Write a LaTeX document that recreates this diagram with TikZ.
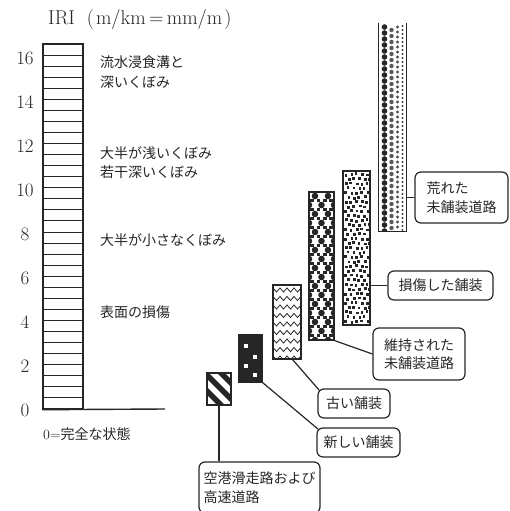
\documentclass[tikz,border=0pt]{standalone}
\usepackage{fontspec}
\newfontfamily\jp{Noto Sans CJK JP}
\definecolor{ink}{gray}{0.15}
\begin{document}
\begin{tikzpicture}[x=1pt,y=-1pt,
  conn/.style={draw=ink, line width=1.2pt},
  barbox/.style={draw=ink, line width=1.2pt, inner sep=0pt, rectangle},
  lbl/.style={draw=ink, line width=1.2pt, rounded corners=6pt, inner sep=0pt, font=\jp\fontsize{14}{18.5}\selectfont, text=ink, align=left},
  jtxt/.style={font=\jp\fontsize{14}{18}\selectfont, text=ink, inner sep=0pt, anchor=west},
  num/.style={font=\fontsize{19}{20}\selectfont, text=ink, inner sep=0pt},
  hl/.style={draw=ink, line width=1pt}
]
\useasboundingbox[fill=white] (0,0) rectangle (509,511);

% ---- left scale bar ----
\node[barbox, line width=1.4pt, minimum width=40pt, minimum height=365pt] (axis) at (63,226.5) {};
\foreach \k in {1,...,32} \draw[hl] (43,{409-11.06*\k}) -- (83,{409-11.06*\k});
\coordinate (xend) at (165,409);
\draw[conn, line width=1.4pt] (axis.south west) -- (xend);

\foreach \v in {0,2,...,16} \node[num] (n\v) at (25,{410-22*\v}) {\v};

\node[font=\fontsize{20}{22}\selectfont, text=ink, inner sep=0pt, anchor=west] (title) at (48,20) {IRI\hspace{12pt}(\hspace{2pt}m/km\,=\,mm/m\hspace{2pt})};

\node[jtxt] (t1a) at (100,62) {流水浸食溝と};
\node[jtxt] (t1b) at (100,82) {深いくぼみ};
\node[jtxt] (t2a) at (100,153) {大半が浅いくぼみ};
\node[jtxt] (t2b) at (100,172) {若干深いくぼみ};
\node[jtxt] (t3) at (100,240) {大半が小さなくぼみ};
\node[jtxt] (t4) at (100,312) {表面の損傷};
\node[jtxt] (t5) at (43,434) {{\normalfont\fontsize{14}{16}\selectfont 0=}完全な状態};

% ---- bar 1: stripes ----
\begin{scope}
\clip (207,373) rectangle (231,405);
\foreach \c in {152,168,184} \draw[line width=5.6pt, ink] (190,{190+\c}) -- (250,{250+\c});
\end{scope}
\node[barbox, minimum width=24pt, minimum height=32pt] (b1) at (219,389) {};

% ---- bar 2: black with white squares ----
\node[barbox, fill=black!85, minimum width=23pt, minimum height=47pt] (b2) at (250.5,358.5) {};
\foreach \p in {(246,346),(255,357),(246,366),(255,375)} \fill[white] \p ++(-2.3,-2.3) rectangle ++(4.6,4.6);

% ---- bar 3: zigzag ----
\begin{scope}
\clip (273,285) rectangle (301,359);
\foreach \y in {288,296.5,...,356} \draw[ink, line width=0.8pt] (273,\y) \foreach \i in {1,...,8} { -- ({273+3.5*\i},{\y+4*mod(\i,2)}) };
\end{scope}
\node[barbox, minimum width=28pt, minimum height=74pt] (b3) at (287,322) {};

% ---- bar 4: balls on checker ----
\begin{scope}
\clip (309,192) rectangle (334,340);
\foreach \y in {196,214,...,340} {\fill[ink] (315,\y) circle (3.3); \fill[ink] (328,\y) circle (3.3);}
\foreach \y in {205,223,...,340} {\fill[ink] (321.5,\y) circle (3.3); \fill[ink] (309,\y) circle (3.3); \fill[ink] (334,\y) circle (3.3);}
\foreach \y in {200.5,209.5,...,340} \foreach \x in {312,318.5,325,331} \fill[ink] (\x,\y) ++(-1.6,-1.6) rectangle ++(3.2,3.2);
\end{scope}
\node[barbox, minimum width=25pt, minimum height=148pt] (b4) at (321.5,266) {};

% ---- bar 5: dense squares ----
\begin{scope}
\clip (343,171) rectangle (370,325);
\foreach \r in {0,...,33} \foreach \c in {0,...,5}
  \fill[ink] ({344.5+5.4*\c+2.7*mod(\r,2)+0.8*sin(77*\r+131*\c)},{173+4.6*\r+0.7*cos(53*\r+97*\c)}) rectangle ++(2.8,2.8);
\end{scope}
\node[barbox, minimum width=27pt, minimum height=154pt] (b5) at (356.5,248) {};

% ---- bar 6: graded dots, open top ----
\begin{scope}
\clip (379,23) rectangle (406,231);
\foreach \y in {27,33,...,231} \fill[ink] (384.5,\y) circle (2.8);
\foreach \y in {30,36,...,231} \fill[black!65] (391.5,\y) circle (2.2);
\foreach \y in {27,32,...,231} \fill[black!70] (397.5,\y) circle (1.6);
\foreach \y in {26,30,...,231} \fill[black!75] (402.5,\y) circle (1.1);
\end{scope}
\node[inner sep=0pt, minimum width=27pt, minimum height=208pt] (b6) at (392.5,127) {};
\draw[conn] (b6.north west) -- (b6.south west) -- (b6.south east) -- (b6.north east);

% ---- label boxes ----
\node[lbl, minimum width=93pt, minimum height=51pt] (lA) at (461.5,197.5) {荒れた\\未舗装道路};
\node[lbl, minimum width=105pt, minimum height=29pt] (lB) at (440.5,285.5) {損傷した舗装};
\node[lbl, minimum width=92pt, minimum height=52pt] (lC) at (419,354) {維持された\\未舗装道路};
\node[lbl, minimum width=72pt, minimum height=29pt] (lD) at (354,403.5) {古い舗装};
\node[lbl, minimum width=83pt, minimum height=29pt] (lE) at (358.5,442.5) {新しい舗装};
\node[lbl, minimum width=121pt, minimum height=51pt] (lF) at (259.5,487.5) {空港滑走路および\\高速道路};

% ---- connectors ----
\draw[conn] (lA.west) -- (lA.west -| b6.east);
\draw[conn] (lB.west) -- (lB.west -| b5.east);
\draw[conn] (b4.south east) -- (lC.west);
\draw[conn] ([xshift=-9pt]b3.south east) -- ([xshift=1.8pt,yshift=-1.8pt]lD.north west);
\draw[conn] (b2.south east) -- ([xshift=1.8pt,yshift=-1.8pt]lE.north west);
\draw[conn] (b1.south) -- (b1.south |- lF.north);
\end{tikzpicture}
\end{document}
